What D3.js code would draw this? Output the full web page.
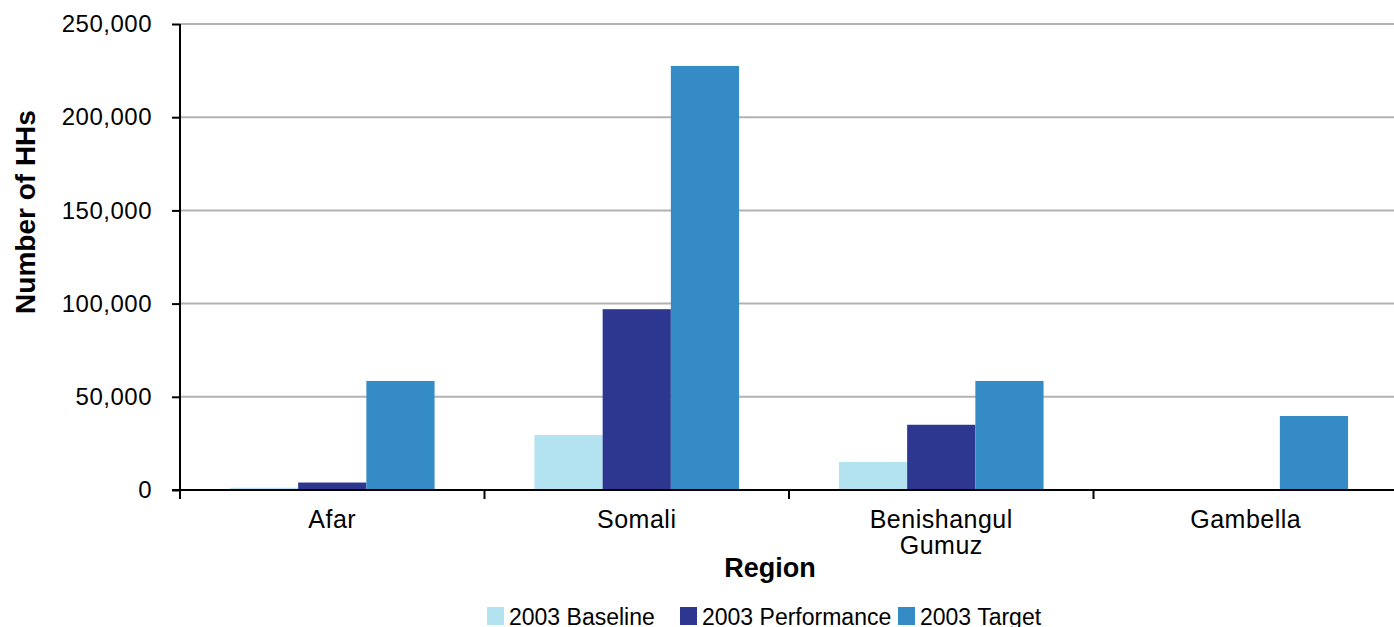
<!DOCTYPE html>
<html>
<head>
<meta charset="utf-8">
<script src="https://cdn.jsdelivr.net/npm/d3@7"></script>
<style>
	body { margin: 0; background: #fff; }
	svg text { font-family: "Liberation Sans", Arial, sans-serif; fill: #000; }
</style>
</head>
<body>
<svg id="chart" width="1394" height="627"></svg>
<script>
// region names, split into lines where the label wraps
const regions = ["Afar", "Somali", "Benishangul Gumuz", "Gambella"];
const regionLines = [["Afar"], ["Somali"], ["Benishangul", "Gumuz"], ["Gambella"]];
const seriesNames = ["2003 Baseline", "2003 Performance", "2003 Target"];
const seriesColors = ["#b3e3f1", "#2d378f", "#348bc6"];

const baseline = [1200, 29500, 15000, 0];
const performance = [4000, 97000, 35000, 0];
const target = [58500, 227500, 58500, 39700];

const yTicks = [0, 50000, 100000, 150000, 200000, 250000];

const svg = d3.select("#chart");
const plotLeft = 180, plotRight = 1398, plotTop = 24, plotBottom = 490;

const x0 = d3.scaleBand().domain(regions).range([plotLeft, plotRight]);
const bw = x0.bandwidth();
const x1 = d3.scaleBand().domain(seriesNames).range([bw * 0.164, bw * 0.836]);
const y = d3.scaleLinear().domain([0, 250000]).range([plotBottom, plotTop]);

// gridlines
svg.append("g")
	.selectAll("line")
	.data(yTicks.filter(d => d > 0))
	.join("line")
	.attr("x1", plotLeft).attr("x2", plotRight)
	.attr("y1", d => y(d)).attr("y2", d => y(d))
	.attr("stroke", "#b2b2b2").attr("stroke-width", 2);

// bars
const rows = regions.map((r, i) => ({ region: r, values: [baseline[i], performance[i], target[i]] }));
svg.append("g")
	.selectAll("g")
	.data(rows)
	.join("g")
	.attr("transform", d => "translate(" + x0(d.region) + ",0)")
	.selectAll("rect")
	.data(d => d.values.map((v, j) => ({ key: seriesNames[j], value: v, color: seriesColors[j] })))
	.join("rect")
	.attr("x", d => x1(d.key))
	.attr("width", x1.bandwidth())
	.attr("y", d => y(d.value))
	.attr("height", d => y(0) - y(d.value))
	.attr("fill", d => d.color);

// y axis
const yAxis = d3.axisLeft(y)
	.tickValues(yTicks)
	.tickSize(8)
	.tickPadding(20)
	.tickFormat(d3.format(","));
const gy = svg.append("g").attr("transform", "translate(" + plotLeft + ",0)").call(yAxis);
gy.select(".domain").attr("stroke", "#000").attr("stroke-width", 2).attr("d", "M0," + plotTop + "V" + (plotBottom + 8));
gy.selectAll(".tick line").attr("stroke", "#000").attr("stroke-width", 2);
gy.selectAll(".tick text")
	.style("font-size", "24px")
	.style("letter-spacing", "0.5px")
	.style("font-family", "Liberation Sans, Arial, sans-serif");

// x axis: baseline line and category boundary ticks
svg.append("line")
	.attr("x1", plotLeft - 8).attr("x2", plotRight)
	.attr("y1", plotBottom).attr("y2", plotBottom)
	.attr("stroke", "#000").attr("stroke-width", 2);
const bounds = regions.map(r => x0(r)).concat([plotRight]);
svg.append("g")
	.selectAll("line")
	.data(bounds)
	.join("line")
	.attr("x1", d => d).attr("x2", d => d)
	.attr("y1", plotBottom).attr("y2", plotBottom + 9)
	.attr("stroke", "#000").attr("stroke-width", 2);

svg.append("g")
	.selectAll("text")
	.data(regions)
	.join("text")
	.attr("x", d => x0(d) + bw / 2)
	.attr("y", 528)
	.attr("text-anchor", "middle")
	.style("font-size", "25px")
	.style("letter-spacing", "0.5px")
	.selectAll("tspan")
	.data((d, i) => regionLines[i])
	.join("tspan")
	.attr("x", function() { return this.parentNode.getAttribute("x"); })
	.attr("dy", (d, i) => i === 0 ? 0 : 26)
	.text(d => d);

// axis titles
svg.append("text")
	.attr("x", 770).attr("y", 577)
	.attr("text-anchor", "middle")
	.style("font-size", "27px").style("font-weight", "bold")
	.text("Region");

svg.append("text")
	.attr("transform", "translate(35,212) rotate(-90)")
	.attr("text-anchor", "middle")
	.style("font-size", "28px").style("font-weight", "bold")
	.text("Number of HHs");

// legend
const legendX = [487, 680, 898];
const legend = svg.append("g")
	.selectAll("g")
	.data(seriesNames)
	.join("g")
	.attr("transform", (d, i) => "translate(" + legendX[i] + ",607)");
legend.append("rect")
	.attr("width", 17).attr("height", 18)
	.attr("fill", (d, i) => seriesColors[i]);
legend.append("text")
	.attr("x", 22).attr("y", 18)
	.style("font-size", "23px")
	.text(d => d);
</script>
</body>
</html>
